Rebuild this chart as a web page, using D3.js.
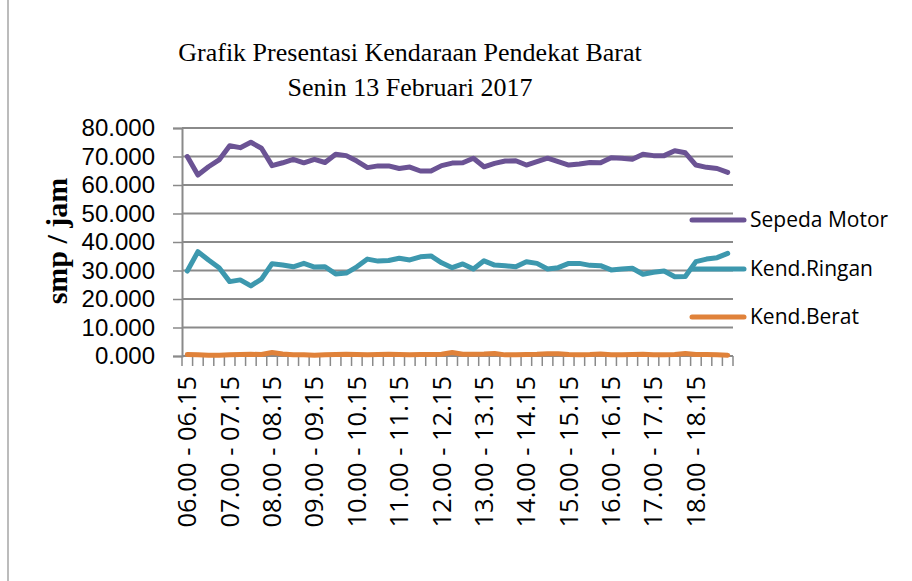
<!DOCTYPE html>
<html>
<head>
<meta charset="utf-8">
<script src="https://cdn.jsdelivr.net/npm/d3@7"></script>
<style>
  body { margin: 0; background: #fff; }
</style>
</head>
<body>
<div id="chart"></div>
<script>
// data (15-minute intervals)
var hours = ["06", "07", "08", "09", "10", "11", "12", "13", "14", "15", "16", "17", "18"];
var minutes = ["00", "15", "30", "45"];
var categories = [];
hours.forEach(function (h) {
    minutes.forEach(function (m, j) {
        var endH = j == 3 ? d3.format("02")(+h + 1) : h;
        var endM = minutes[(j + 1) % 4];
        categories.push(h + "." + m + " - " + endH + "." + endM);
    });
});

var seriesNames = ["Sepeda Motor", "Kend.Ringan", "Kend.Berat"];
var seriesColors = ["#6b5394", "#3d98ae", "#e0823a"];

var sepedaMotor = [70.0, 63.5, 66.4, 68.8, 73.8, 73.1, 75.0, 72.9, 66.8, 67.8, 69.0, 67.8, 69.0,
    67.9, 70.8, 70.3, 68.4, 66.1, 66.7, 66.7, 65.8, 66.3, 64.9, 64.9, 66.8, 67.7,
    67.8, 69.4, 66.4, 67.6, 68.4, 68.5, 67.0, 68.2, 69.4, 68.2, 67.0, 67.4, 67.9,
    67.8, 69.6, 69.4, 69.0, 70.8, 70.3, 70.3, 72.0, 71.3, 67.0, 66.2, 65.8, 64.4];
var kendRingan = [29.8, 36.6, 33.7, 31.0, 26.1, 26.7, 24.6, 27.0, 32.4, 31.9, 31.3, 32.5, 31.2,
    31.3, 28.8, 29.1, 31.3, 34.0, 33.3, 33.5, 34.3, 33.7, 34.8, 35.1, 32.7, 31.0,
    32.3, 30.5, 33.4, 31.9, 31.7, 31.3, 33.1, 32.5, 30.5, 31.0, 32.5, 32.5, 31.8,
    31.7, 30.2, 30.5, 30.8, 28.7, 29.4, 29.8, 27.8, 27.9, 33.1, 34.0, 34.5, 36.0];
var kendBerat = [0.5, 0.4, 0.3, 0.3, 0.4, 0.5, 0.6, 0.5, 1.2, 0.7, 0.4, 0.4, 0.3,
    0.4, 0.5, 0.6, 0.5, 0.4, 0.5, 0.6, 0.5, 0.4, 0.5, 0.5, 0.6, 1.2,
    0.6, 0.6, 0.7, 0.9, 0.4, 0.4, 0.5, 0.6, 0.8, 0.8, 0.5, 0.4, 0.5,
    0.7, 0.4, 0.4, 0.5, 0.6, 0.4, 0.4, 0.5, 0.9, 0.5, 0.5, 0.4, 0.3];
var yTicks = [0, 10, 20, 30, 40, 50, 60, 70, 80];

var series = [sepedaMotor, kendRingan, kendBerat];

var width = 912, height = 581;
var plot = { left: 182, right: 733, top: 128, bottom: 356 };

var svg = d3.select("#chart").append("svg")
    .attr("width", width)
    .attr("height", height);

// chart border (left side visible)
svg.append("line")
    .attr("x1", 8).attr("x2", 8)
    .attr("y1", 0).attr("y2", height)
    .attr("stroke", "#a6a6a6").attr("stroke-width", 1.5);

var x = d3.scaleBand()
    .domain(d3.range(categories.length))
    .range([plot.left, plot.right]);

var y = d3.scaleLinear()
    .domain([0, 80])
    .range([plot.bottom, plot.top]);

// title
var title = svg.append("text")
    .attr("text-anchor", "middle")
    .attr("font-family", "Liberation Serif, Times New Roman, serif")
    .attr("font-size", "26px")
    .attr("fill", "#000");
title.append("tspan").attr("x", 410).attr("y", 61).text("Grafik Presentasi Kendaraan Pendekat Barat");
title.append("tspan").attr("x", 410).attr("y", 96).text("Senin 13 Februari 2017");

// gridlines
svg.append("g")
    .selectAll("line")
    .data(yTicks)
    .enter()
    .append("line")
    .attr("x1", plot.left).attr("x2", plot.right)
    .attr("y1", d => y(d)).attr("y2", d => y(d))
    .attr("stroke", "#8a8a8a")
    .attr("stroke-width", 2);

// y axis
var yAxis = svg.append("g")
    .attr("transform", `translate(${plot.left},0)`)
    .call(d3.axisLeft(y).tickValues(yTicks).tickSize(9).tickPadding(18)
        .tickFormat(d3.format(".3f")));
yAxis.select(".domain").attr("stroke", "#8a8a8a").attr("stroke-width", 2);
yAxis.selectAll(".tick line").attr("stroke", "#8a8a8a").attr("stroke-width", 1.5);
yAxis.selectAll(".tick text")
    .attr("font-family", "Liberation Sans, Arial, sans-serif")
    .attr("font-size", "24px")
    .attr("fill", "#000");

// x axis: ticks between categories, labels every hour
var xAxis = svg.append("g")
    .attr("transform", `translate(0,${plot.bottom})`);
xAxis.append("line")
    .attr("x1", plot.left).attr("x2", plot.right)
    .attr("stroke", "#8a8a8a").attr("stroke-width", 2);
xAxis.selectAll(".xtick")
    .data(d3.range(categories.length + 1))
    .enter()
    .append("line")
    .attr("class", "xtick")
    .attr("x1", i => plot.left + i * x.bandwidth())
    .attr("x2", i => plot.left + i * x.bandwidth())
    .attr("y1", 0).attr("y2", 10)
    .attr("stroke", "#8a8a8a").attr("stroke-width", 1.5);
xAxis.selectAll(".xlabel")
    .data(d3.range(categories.length).filter(i => i % 4 == 0))
    .enter()
    .append("text")
    .attr("class", "xlabel")
    .attr("transform", i => `translate(${x(i) + x.bandwidth() / 2},20) rotate(-90)`)
    .attr("text-anchor", "end")
    .attr("dy", "0.35em")
    .attr("font-family", "Open Sans, sans-serif")
    .attr("font-size", "25.5px")
    .attr("fill", "#000")
    .text(i => categories[i]);

// y axis title
svg.append("text")
    .attr("transform", "translate(67,241) rotate(-90)")
    .attr("text-anchor", "middle")
    .attr("font-family", "Liberation Serif, Times New Roman, serif")
    .attr("font-weight", "bold")
    .attr("font-size", "30px")
    .attr("fill", "#000")
    .text("smp / jam");

// lines
var line = d3.line()
    .x((d, i) => x(i) + x.bandwidth() / 2)
    .y(d => y(d));

svg.append("g")
    .selectAll("path")
    .data(series)
    .enter()
    .append("path")
    .attr("d", d => line(d))
    .attr("fill", "none")
    .attr("stroke", (d, i) => seriesColors[i])
    .attr("stroke-width", 5)
    .attr("stroke-linejoin", "round")
    .attr("stroke-linecap", "round");

// legend
var legendY = [220, 269, 317];
var legend = svg.append("g")
    .selectAll("g")
    .data(seriesNames)
    .enter()
    .append("g")
    .attr("transform", (d, i) => `translate(0,${legendY[i]})`);
legend.append("line")
    .attr("x1", 692).attr("x2", 744)
    .attr("stroke", (d, i) => seriesColors[i])
    .attr("stroke-width", 5)
    .attr("stroke-linecap", "round");
legend.append("text")
    .attr("x", 750)
    .attr("dy", "0.35em")
    .attr("font-family", "Open Sans, sans-serif")
    .attr("font-size", "21px")
    .attr("fill", "#000")
    .text(d => d);
</script>
</body>
</html>
